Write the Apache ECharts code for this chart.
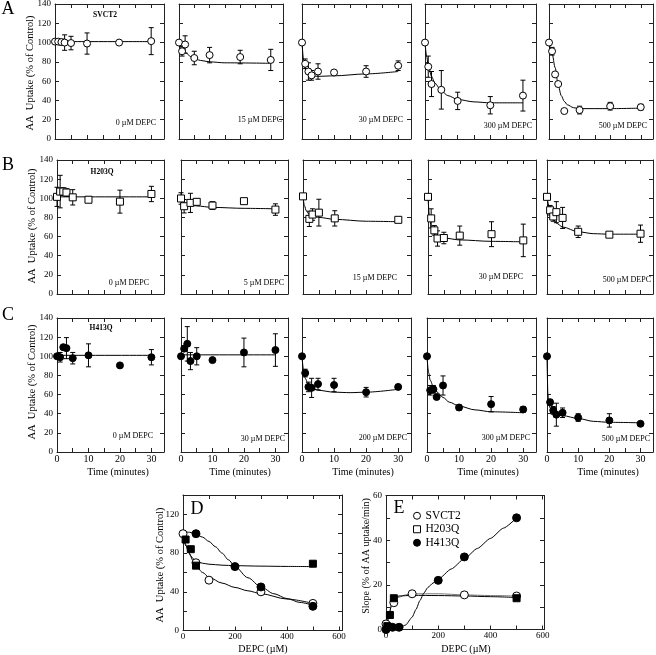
<!DOCTYPE html>
<html><head><meta charset="utf-8">
<script src="https://cdn.jsdelivr.net/npm/echarts@6/dist/echarts.min.js"></script>
<style>html,body{margin:0;padding:0;background:#fff}#c{width:656px;height:655px}</style>
</head><body><div id="c"></div>
<script>
// ================= DATA =================
const timeTickLabels = [0, 10, 20, 30];
const rowNames = ['SVCT2', 'H203Q', 'H413Q'];
const rowA_labels = ['0 µM DEPC', '15 µM DEPC', '30 µM DEPC', '300 µM DEPC', '500 µM DEPC'];
const rowB_labels = ['0 µM DEPC', '5 µM DEPC', '15 µM DEPC', '30 µM DEPC', '500 µM DEPC'];
const rowC_labels = ['0 µM DEPC', '30 µM DEPC', '200 µM DEPC', '300 µM DEPC', '500 µM DEPC'];

// Row A: SVCT2
const A1_t = [0, 1, 2, 3, 5, 10, 20, 30];
const A1_v = [101, 101, 100.5, 100, 99.5, 99, 100, 101.5];
const A1_e = [1, 1, 3, 8, 7, 11, 0, 14];
const A1_fit = [[0, 101], [30, 101]];

const A2_t = [0, 1, 2, 5, 10, 20, 30];
const A2_v = [100, 91, 98, 84, 87, 85, 82];
const A2_e = [0, 5, 9, 7, 8, 7, 11];
const A2_fit = [[0, 97], [1, 93], [2, 90], [4, 85], [7, 81.5], [10, 80], [15, 79], [30, 78.5]];

const A3_t = [0, 1, 2, 3, 5, 10, 20, 30];
const A3_v = [100, 78, 70, 66, 70, 69, 70, 76];
const A3_e = [0, 5, 9, 5, 8, 2, 6, 5];
const A3_fit = [[0, 100], [0.5, 82], [1, 73], [2, 67.5], [3, 65.5], [5, 65], [10, 65.5], [20, 67.5], [30, 70]];

const A4_t = [0, 1, 2, 5, 10, 20, 30];
const A4_v = [100, 75, 57, 51, 39.5, 35, 45];
const A4_e = [0, 11, 13, 20, 9, 9, 16];
const A4_fit = [[0, 100], [0.5, 86], [1, 76], [2, 65], [3, 58], [5, 50], [7, 45], [10, 41], [15, 38.5], [20, 37.5], [30, 37.5]];

const A5_t = [0, 1, 2, 3, 5, 10, 20, 30];
const A5_v = [100, 91, 67, 57, 29, 30, 34, 33];
const A5_e = [0, 4, 0, 0, 0, 4, 4, 3];
const A5_fit = [[0, 100], [1, 89], [2, 74], [3, 56], [4, 45], [5, 39], [6, 35.5], [8, 32.5], [10, 31.5], [20, 31.5], [30, 32]];

// Row B: H203Q
const B1_t = [0, 1, 2, 3, 5, 10, 20, 30];
const B1_v = [101.5, 107, 107, 106, 101, 98.5, 96.5, 104.5];
const B1_e = [10, 17, 4, 4, 8, 2, 12, 8];
const B1_fit = [[0, 101.5], [30, 101.5]];

const B2_t = [0, 1, 3, 5, 10, 20, 30];
const B2_v = [99.8, 91.7, 95.2, 96.3, 92.4, 97, 88.2];
const B2_e = [6, 7, 10, 3, 4, 2, 6];
const B2_fit = [[0, 96], [2, 93.5], [5, 92], [10, 90.5], [20, 89.5], [30, 89]];

const B3_t = [0, 2, 3, 5, 10, 30];
const B3_v = [102, 78.5, 83, 85, 79, 77.5];
const B3_e = [0, 8, 6, 14, 8, 0];
const B3_fit = [[0, 101], [0.5, 92], [1, 87], [2, 83], [3, 81.5], [5, 80], [10, 78], [20, 76], [30, 75.5]];

const B4_t = [0, 1, 2, 3, 5, 10, 20, 30];
const B4_v = [101.5, 79, 66.5, 58, 58.5, 61, 62.5, 56];
const B4_e = [0, 10, 5, 8, 6, 10, 13, 17];
const B4_fit = [[0, 101], [0.5, 80], [1, 69], [2, 62], [3, 60], [5, 58.5], [10, 56.5], [20, 55], [30, 54.5]];

const B5_t = [0, 1, 2, 3, 5, 10, 20, 30];
const B5_v = [101.5, 87.5, 81, 85.5, 79.5, 65, 62, 63];
const B5_e = [0, 5, 5, 11, 11, 6, 0, 9];
const B5_fit = [[0, 101], [1, 88], [2, 78], [3, 74], [5, 70], [10, 65], [15, 63], [20, 62.5], [30, 62.5]];

// Row C: H413Q
const C1_t = [0, 1, 2, 3, 5, 10, 20, 30];
const C1_v = [100, 99, 109.5, 108.5, 98, 101, 90.5, 99];
const C1_e = [0, 5, 0, 11, 6, 12, 2, 8];
const C1_fit = [[0, 101], [30, 101]];

const C2_t = [0, 1, 2, 3, 5, 10, 20, 30];
const C2_v = [100, 108, 113, 95, 100, 96, 104, 106.5];
const C2_e = [0, 3, 18, 9, 9, 0, 15, 17];
const C2_fit = [[0, 101.5], [30, 101.5]];

const C3_t = [0, 1, 2, 3, 5, 10, 20, 30];
const C3_v = [100, 82.5, 68, 67, 71, 70, 62.5, 68];
const C3_e = [0, 4, 5, 10, 6, 7, 5, 2];
const C3_fit = [[0, 100], [0.5, 85], [1, 77], [2, 70], [3, 67], [5, 64.5], [10, 62.5], [15, 62], [20, 62.5], [30, 65.5]];

const C4_t = [0, 1, 2, 3, 5, 10, 20, 30];
const C4_v = [100, 64.5, 65.5, 57.5, 69.5, 46.5, 50, 44.5];
const C4_e = [0, 5, 4, 0, 10, 3, 8, 3];
const C4_fit = [[0, 100], [0.5, 83], [1, 75], [2, 68], [3, 63], [5, 57], [7, 52], [10, 48], [15, 44], [20, 42], [30, 41]];

const C5_t = [0, 1, 2, 3, 5, 10, 20, 30];
const C5_v = [100, 52, 43.5, 39, 41, 36, 33, 29.5];
const C5_e = [0, 3, 4, 12, 5, 4, 7, 0];
const C5_fit = [[0, 100], [0.3, 60], [0.6, 50], [1, 46], [2, 42], [3, 40], [5, 38], [10, 35], [15, 32], [20, 31], [30, 30.5]];

// Panel D: uptake vs DEPC
const D_tickLabels = [0, 200, 400, 600];
const D_SVCT2_x = [0, 50, 100, 300, 500];
const D_SVCT2_y = [100, 70, 52, 40, 28];
const D_H203Q_x = [10, 30, 50, 500];
const D_H203Q_y = [94, 84, 67, 69];
const D_H413Q_x = [50, 200, 300, 500];
const D_H413Q_y = [100, 66, 45, 25];
const D_SVCT2_fit = [[0, 97], [12.5, 87], [25, 79.5], [37.5, 72.5], [50, 67], [75, 60], [100, 55], [150, 49], [200, 44.5], [250, 41], [300, 38], [400, 32.5], [500, 28]];
const D_H203Q_fit = [[0, 97], [10, 89], [20, 82], [30, 77], [40, 74], [50, 72], [75, 69.5], [100, 68.5], [150, 67.5], [200, 67], [300, 66.5], [400, 66.2], [500, 66]];
const D_H413Q_fit = [[0, 102], [25, 101.5], [50, 99.5], [75, 96.5], [100, 92], [125, 86.5], [150, 80], [175, 73], [200, 66], [250, 54.5], [300, 45], [350, 38], [400, 33], [450, 29], [500, 26]];

// Panel E: slope vs DEPC
const E_SVCT2_x = [0, 30, 100, 300, 500];
const E_SVCT2_y = [2.5, 12, 16, 15.5, 15];
const E_H203Q_x = [5, 15, 30, 500];
const E_H203Q_y = [1.5, 6.5, 14, 14];
const E_H413Q_x = [0, 25, 50, 200, 300, 500];
const E_H413Q_y = [0, 1, 1, 22, 32.5, 50];
const E_SVCT2_fit = [[0, 2], [10, 6], [20, 10], [30, 12.5], [50, 14.5], [75, 15.5], [100, 16], [200, 16], [300, 15.5], [400, 15.2], [500, 15]];
const E_H203Q_fit = [[0, 0], [10, 5], [20, 10.5], [30, 14], [50, 15], [100, 15.3], [200, 15.2], [300, 15], [400, 14.7], [500, 14.3]];
const E_H413Q_fit = [[0, 0], [25, 0.2], [50, 0.6], [75, 2], [100, 5.5], [115, 9], [130, 13], [145, 16.3], [160, 18.8], [180, 20.8], [200, 22.5], [250, 27.1], [300, 31.7], [350, 36.3], [400, 40.8], [450, 45.4], [500, 50]];

// ================= LAYOUT =================
const FONT = '"Liberation Serif", "Times New Roman", serif';
const rowTop = [4, 160, 318];
const rowBottom = [139, 294, 452];
const colL = [[55, 179, 302, 425, 549], [57, 181, 303, 428, 547], [57, 181, 302, 427, 547]];
const colR = [[164, 283, 411, 536, 653], [164, 288, 411, 536, 653], [164, 288, 411, 536, 653]];
const labX = [[156, 282, 403, 532, 647], [149, 284, 397, 523, 651], [153, 285, 407, 530, 650]];
const labY = [[123, 120, 120, 126, 126], [283, 283, 278, 277, 280], [436, 439, 438, 438, 439]];
const timeTitleX = [118, 240, 363, 488, 608];

const panelData = [
  [[A1_t, A1_v, A1_e, A1_fit], [A2_t, A2_v, A2_e, A2_fit], [A3_t, A3_v, A3_e, A3_fit], [A4_t, A4_v, A4_e, A4_fit], [A5_t, A5_v, A5_e, A5_fit]],
  [[B1_t, B1_v, B1_e, B1_fit], [B2_t, B2_v, B2_e, B2_fit], [B3_t, B3_v, B3_e, B3_fit], [B4_t, B4_v, B4_e, B4_fit], [B5_t, B5_v, B5_e, B5_fit]],
  [[C1_t, C1_v, C1_e, C1_fit], [C2_t, C2_v, C2_e, C2_fit], [C3_t, C3_v, C3_e, C3_fit], [C4_t, C4_v, C4_e, C4_fit], [C5_t, C5_v, C5_e, C5_fit]]
];
const rowLabels = [rowA_labels, rowB_labels, rowC_labels];
const rowSymbol = ['circle', 'rect', 'circle'];
const rowFill = ['#fff', '#fff', '#000'];

const AX = '#222';
const grid = [], xAxis = [], yAxis = [], series = [], graphic = [];

function axisBase(gi) {
  return {
    gridIndex: gi, type: 'value',
    axisLine: { show: true, onZero: false, lineStyle: { color: AX, width: 1 } },
    axisTick: { show: true, inside: true, length: 4, lineStyle: { color: AX, width: 1 } },
    splitLine: { show: false }
  };
}
function addPanel(l, t, w, h, xr, yr, xLab, yLab) {
  const gi = grid.length;
  grid.push({ left: l, top: t, width: w, height: h, containLabel: false, outerBoundsMode: 'none' });
  const xi = xAxis.length, yi = yAxis.length;
  xAxis.push(Object.assign(axisBase(gi), { position: 'bottom', min: xr[0], max: xr[1], interval: xr[2],
    axisLabel: xLab ? Object.assign({ show: true, color: '#000', fontFamily: FONT }, xLab) : { show: false } }));
  xAxis.push(Object.assign(axisBase(gi), { position: 'top', min: xr[0], max: xr[1], interval: xr[2], axisLabel: { show: false } }));
  yAxis.push(Object.assign(axisBase(gi), { position: 'left', min: yr[0], max: yr[1], interval: yr[2],
    axisLabel: yLab ? Object.assign({ show: true, color: '#000', fontFamily: FONT }, yLab) : { show: false } }));
  yAxis.push(Object.assign(axisBase(gi), { position: 'right', min: yr[0], max: yr[1], interval: yr[2], axisLabel: { show: false } }));
  return [xi, yi];
}
function renderErr(params, api) {
  const x = api.value(0), lo = api.value(1), hi = api.value(2);
  const p1 = api.coord([x, lo]), p2 = api.coord([x, hi]);
  const w = 2.5, st = { stroke: '#000', lineWidth: 1 };
  return { type: 'group', children: [
    { type: 'line', shape: { x1: p1[0], y1: p1[1], x2: p2[0], y2: p2[1] }, style: st },
    { type: 'line', shape: { x1: p1[0] - w, y1: p1[1], x2: p1[0] + w, y2: p1[1] }, style: st },
    { type: 'line', shape: { x1: p2[0] - w, y1: p2[1], x2: p2[0] + w, y2: p2[1] }, style: st }
  ] };
}
function addFit(xi, yi, data, color, smooth) {
  series.push({ type: 'line', xAxisIndex: xi, yAxisIndex: yi, data: data, smooth: smooth === undefined ? 0.3 : smooth, smoothMonotone: 'x',
    symbol: 'none', lineStyle: { color: color || '#000', width: 1 }, z: 2, silent: true });
}
function addPoints(xi, yi, name, xs, ys, symbol, fill, size) {
  series.push({ type: 'scatter', name: name, xAxisIndex: xi, yAxisIndex: yi, clip: false,
    data: xs.map((x, i) => [x, ys[i]]), symbol: symbol, symbolSize: size,
    itemStyle: { color: fill, borderColor: '#000', borderWidth: 1, opacity: 1 }, z: 4 });
}
function text(t, x, y, size, opts) {
  graphic.push(Object.assign({ type: 'text', x: x, y: y, silent: true, z: 10,
    style: Object.assign({ text: t, fontSize: size, fontFamily: FONT, fill: '#000', textAlign: 'center', textVerticalAlign: 'middle' }, (opts && opts.style) || {}) },
    (opts && opts.el) || {}));
}

// ---- time-course panels ----
for (let r = 0; r < 3; r++) {
  for (let c = 0; c < 5; c++) {
    const [t, v, e, fit] = panelData[r][c];
    const l = colL[r][c], w = colR[r][c] - colL[r][c];
    const xLab = r === 2 ? { fontSize: 10, margin: 2, formatter: (val) => timeTickLabels.includes(val) ? String(val) : '' } : null;
    const yLab = c === 0 ? { fontSize: 9, margin: 4 } : null;
    const [xi, yi] = addPanel(l, rowTop[r], w, rowBottom[r] - rowTop[r], [0, 34, 5], [0, 140, 20], xLab, yLab);
    addFit(xi, yi, fit);
    const err = [];
    t.forEach((x, i) => { if (e[i] > 0) err.push([x, v[i] - e[i], v[i] + e[i]]); });
    series.push({ type: 'custom', xAxisIndex: xi, yAxisIndex: yi, data: err, renderItem: renderErr,
      encode: { x: 0, y: [1, 2] }, z: 3, silent: true });
    addPoints(xi, yi, rowNames[r] + ' ' + rowLabels[r][c], t, v, rowSymbol[r], rowFill[r], 7);
    text(rowLabels[r][c], labX[r][c], labY[r][c], 8, { style: { textAlign: 'right' } });
    if (r === 2) text('Time (minutes)', timeTitleX[c], 472, 10);
  }
}
text('SVCT2', 105, 15, 7.5, { style: { fontWeight: 'bold' } });
text('H203Q', 102, 172, 7.5, { style: { fontWeight: 'bold' } });
text('H413Q', 101, 328, 7.5, { style: { fontWeight: 'bold' } });
text('A', 8, 9, 18);
text('B', 8, 165, 18);
text('C', 8, 315, 18);
text('AA  Uptake (% of Control)', 30, 73, 10.5, { el: { rotation: Math.PI / 2 } });
text('AA  Uptake (% of Control)', 32, 226, 10.5, { el: { rotation: Math.PI / 2 } });
text('AA  Uptake (% of Control)', 32, 382, 10.5, { el: { rotation: Math.PI / 2 } });

// ---- panel D ----
{
  const [xi, yi] = addPanel(183, 495, 159, 135.5, [0, 612, 100], [0, 140, 20],
    { fontSize: 9, margin: 2, formatter: (v) => D_tickLabels.includes(v) ? String(v) : '' },
    { fontSize: 9, margin: 4, formatter: (v) => v % 40 === 0 ? String(v) : '' });
  addFit(xi, yi, D_SVCT2_fit);
  addFit(xi, yi, D_H203Q_fit);
  addFit(xi, yi, D_H413Q_fit);
  addPoints(xi, yi, 'SVCT2', D_SVCT2_x, D_SVCT2_y, 'circle', '#fff', 8);
  addPoints(xi, yi, 'H203Q', D_H203Q_x, D_H203Q_y, 'rect', '#000', 7);
  addPoints(xi, yi, 'H413Q', D_H413Q_x, D_H413Q_y, 'circle', '#000', 8);
  text('D', 197, 509, 18);
  text('DEPC (µM)', 263, 649, 10);
  text('AA  Uptake (% of Control)', 160, 565, 10.5, { el: { rotation: Math.PI / 2 } });
}
// ---- panel E ----
{
  const [xi, yi] = addPanel(386, 495.5, 158, 134, [0, 605, 100], [0, 60, 10],
    { fontSize: 9, margin: 2, formatter: (v) => D_tickLabels.includes(v) ? String(v) : '' },
    { fontSize: 9, margin: 4, formatter: (v) => v % 20 === 0 ? String(v) : '' });
  addFit(xi, yi, E_SVCT2_fit, '#777');
  addFit(xi, yi, E_H203Q_fit);
  addFit(xi, yi, E_H413Q_fit, '#000', 0.2);
  addPoints(xi, yi, 'SVCT2', E_SVCT2_x, E_SVCT2_y, 'circle', '#fff', 8);
  addPoints(xi, yi, 'H203Q', E_H203Q_x, E_H203Q_y, 'rect', '#000', 7);
  addPoints(xi, yi, 'H413Q', E_H413Q_x, E_H413Q_y, 'circle', '#000', 8);
  text('E', 399, 508, 18);
  text('DEPC (µM)', 466, 649, 10);
  text('Slope (% of AA uptake/min)', 366, 556, 10, { el: { rotation: Math.PI / 2 } });
}

const chart = echarts.init(document.getElementById('c'));
chart.setOption({
  animation: false,
  backgroundColor: '#fff',
  grid: grid, xAxis: xAxis, yAxis: yAxis, series: series, graphic: graphic,
  legend: {
    show: true, orient: 'vertical', left: 413, top: 509, itemGap: 0, itemWidth: 7, itemHeight: 7, padding: 0,
    selectedMode: false,
    textStyle: { fontFamily: FONT, fontSize: 11.5, color: '#000', lineHeight: 13.5 },
    data: [
      { name: 'SVCT2', icon: 'circle', itemStyle: { color: '#fff', borderColor: '#000', borderWidth: 1 } },
      { name: 'H203Q', icon: 'rect', itemStyle: { color: '#fff', borderColor: '#000', borderWidth: 1 } },
      { name: 'H413Q', icon: 'circle', itemStyle: { color: '#000', borderColor: '#000', borderWidth: 1 } }
    ]
  }
});
</script></body></html>
